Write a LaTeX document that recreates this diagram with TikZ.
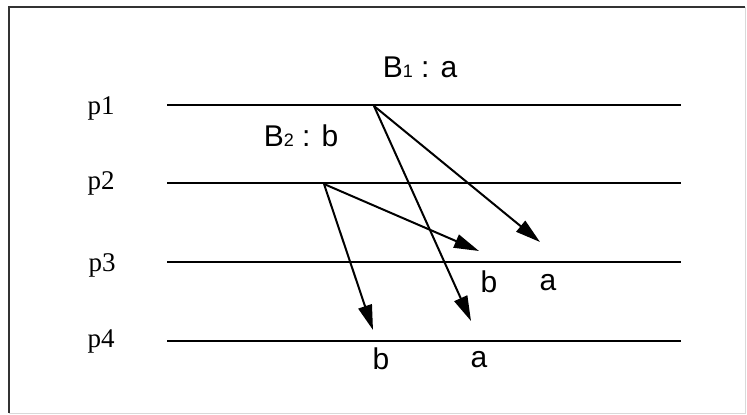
\documentclass[tikz,border=0pt]{standalone}
\usepackage{fontspec}
\setmainfont{Liberation Serif}
\newfontfamily\arialf{Liberation Sans}
\usetikzlibrary{arrows.meta}
\begin{document}
\begin{tikzpicture}[x=1pt,y=-1pt,
  proc/.style={line width=2.2pt},
  msg/.style={line width=2pt,-{Triangle[length=25pt,width=14pt]}},
  plabel/.style={font=\fontsize{27}{27}\selectfont,inner sep=0pt},
  slabel/.style={font=\arialf\fontsize{30}{30}\selectfont,inner sep=0pt}]
\useasboundingbox (0,0) rectangle (747,415);
% frame
\draw[line width=1.6pt,black!80] (745,7) -- (9,7) -- (9,413);
\draw[line width=0.8pt,black!15] (745,7) -- (745,413) -- (9,413);
% processes
\coordinate (l1) at (167,105); \coordinate (r1) at (681,105);
\coordinate (l2) at (167,183); \coordinate (r2) at (681,183);
\coordinate (l3) at (167,262); \coordinate (r3) at (681,262);
\coordinate (l4) at (167,341); \coordinate (r4) at (681,341);
\draw[proc] (l1) -- (r1);
\draw[proc] (l2) -- (r2);
\draw[proc] (l3) -- (r3);
\draw[proc] (l4) -- (r4);
\node[plabel] (p1) at (101,108) {p1};
\node[plabel] (p2) at (101,183) {p2};
\node[plabel] (p3) at (102,265) {p3};
\node[plabel] (p4) at (101,341) {p4};
% broadcast labels
\node[slabel] (b1) at (420,67) {B{\fontsize{18}{18}\selectfont 1} : a};
\node[slabel] (b2) at (301,136) {B{\fontsize{18}{18}\selectfont 2} : b};
% messages
\coordinate (s1) at (374,106);
\coordinate (s2) at (324,184);
\coordinate (t1) at (540,242);
\coordinate (t2) at (471,321);
\coordinate (t3) at (479,251);
\coordinate (t4) at (373,330);
\draw[msg] (s1) -- (t1);
\draw[msg] (s1) -- (t2);
\draw[msg] (s2) -- (t3);
\draw[msg] (s2) -- (t4);
% delivery labels
\node[slabel] (d3b) at (489,282) {b};
\node[slabel] (d3a) at (548,283) {a};
\node[slabel] (d4b) at (381,359) {b};
\node[slabel] (d4a) at (479,360) {a};
\end{tikzpicture}
\end{document}
